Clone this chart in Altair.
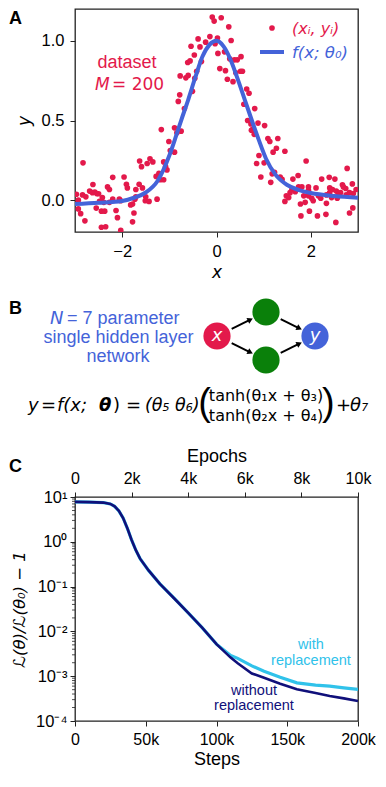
import altair as alt
import pandas as pd

FONT = "Liberation Sans"
MATH = "DejaVu Sans"
RED = "#e3194b"
BLUE = "#4463d9"
GREEN = "#0a800a"
CYAN = "#30c2ea"
NAVY = "#10107a"
INK = "#222222"

# ---------------- Panel A: dataset and fitted curve ----------------
data_x = [-2.83, -1.17, -1.01, -0.89, -0.84, -0.98, -0.89, -1.63, -1.59, -1.47, -1.41, -1.35, -1.12, -1.08,
          -1.05, -1.22, -1.28, -1.19, -1.12, -2.20, -1.96, -1.91, -1.89, -1.64, -1.57, -1.71, -2.31, -2.27,
          -2.62, -2.69, -2.63, -2.58, -2.54, -2.84, -2.77, -2.97, -2.93, -2.42, -2.20, -2.06, -2.27, -2.48,
          -2.39, -2.03, -1.71, -1.50, -1.51, -1.43, -1.26, -1.82, -1.78, -2.93, -2.88, -2.79, -2.55, -2.44,
          -2.37, -2.13, -2.10, -1.75, -1.78, -2.44, -2.35, -2.03, -1.73, -2.50,
          -0.09, -0.05, 0.10, 0.26, -0.14, -0.39, 0.02, -0.23, -0.03, -0.54, -0.35, 0.31, -0.47, 0.03, 0.17,
          -0.61, -0.56, -0.32, 0.28, 0.38, 0.44, 0.52, 0.07, 0.19, -0.42, -0.65, -0.60, -0.46, 0.23, 0.35,
          0.41, 0.51, 0.55, -0.51, -0.78, -0.81, -0.68, 0.64, 0.69, 0.58, 0.81, 0.66, 0.73, 0.88, 1.02, 0.76,
          -0.75, -0.77,
          0.74, 0.80, 1.09, 1.13, 1.30, 1.20, 1.27, 1.45, 0.90, 0.85, 1.01, 1.90, 0.94, 1.15, 1.18, 1.23,
          1.35, 1.39, 1.62, 1.73, 2.77, 2.23, 2.39, 2.51, 2.67, 2.69, 2.74, 2.88, 2.96, 1.60, 1.74, 1.81,
          1.95, 2.11, 2.40, 2.46, 2.54, 2.63, 1.56, 1.67, 1.48, 1.53, 1.45, 1.85, 1.95, 2.02, 2.16, 2.21,
          2.33, 2.44, 2.58, 2.75, 2.90, 1.78, 1.88, 2.05, 2.33, 2.56, 2.89, 2.82, 1.79, 1.97, 2.14, 2.32,
          2.53, 1.95, 2.40, 2.82]
data_y = [0.234, 0.443, 0.368, 0.454, 0.423, 0.311, 0.301, 0.246, 0.210, 0.230, 0.260, 0.240, 0.240, 0.210,
          0.190, 0.169, 0.149, 0.128, 0.128, 0.143, 0.145, 0.100, 0.077, 0.100, 0.077, 0.067, 0.083, 0.067,
          0.098, 0.057, 0.047, 0.051, 0.041, 0.033, 0.021, 0.037, 0.000, 0.016, 0.006, 0.006, -0.014, -0.008,
          -0.014, -0.004, 0.021, 0.021, -0.004, -0.008, 0.006, -0.030, -0.024, -0.055, -0.085, -0.130, -0.050,
          -0.069, -0.069, -0.065, -0.110, -0.081, -0.136, -0.170, -0.167, -0.190, 0.006, 0.040,
          1.149, 1.124, 1.145, 1.088, 1.027, 1.012, 1.018, 0.992, 0.982, 0.966, 0.962, 1.002, 0.911, 0.921,
          0.931, 0.864, 0.874, 0.870, 0.887, 0.881, 0.881, 0.901, 0.826, 0.813, 0.809, 0.768, 0.783, 0.765,
          0.759, 0.744, 0.799, 0.809, 0.809, 0.683, 0.661, 0.620, 0.575, 0.698, 0.671, 0.602, 0.575, 0.500,
          0.478, 0.484, 0.468, 0.443, 0.433, 0.780,
          0.439, 0.413, 0.387, 0.368, 0.387, 0.301, 0.326, 0.307, 0.280, 0.230, 0.234, 0.246, 0.145, 0.112,
          0.165, 0.175, 0.145, 0.130, 0.132, 0.155, 0.199, 0.132, 0.143, 0.132, 0.096, 0.083, 0.073, 0.102,
          0.067, 0.067, 0.083, 0.083, 0.083, 0.077, 0.077, 0.067, 0.057, 0.047, 0.047, 0.053, 0.027, 0.016,
          -0.008, 0.027, 0.027, 0.012, 0.027, 0.012, 0.033, 0.016, 0.033, 0.033, 0.041, -0.024, -0.014,
          -0.004, -0.020, 0.012, -0.049, -0.081, -0.099, -0.069, -0.099, -0.089, -0.140, 0.061, 0.047, 0.047]

fit_x = [-3.0, -2.5, -2.0, -1.75, -1.5, -1.25, -1.0, -0.85, -0.75, -0.6, -0.45, -0.3, -0.15, 0.0,
         0.15, 0.3, 0.45, 0.6, 0.75, 0.9, 1.05, 1.25, 1.5, 1.75, 2.0, 2.5, 3.0]
fit_y = [-0.025, -0.017, -0.005, 0.015, 0.048, 0.12, 0.28, 0.41, 0.50, 0.63, 0.77, 0.90, 0.975, 1.0,
         0.965, 0.88, 0.76, 0.63, 0.50, 0.375, 0.26, 0.16, 0.095, 0.063, 0.045, 0.026, 0.015]

x_ticks_A = [-2, 0, 2]
y_ticks_A = [0.0, 0.5, 1.0]

# ---------------- Panel B: network diagram ----------------
node_layer = [0, 1, 1, 2]
node_row = [0, 1, -1, 0]
node_color = [RED, GREEN, GREEN, BLUE]
node_text = ["x", "", "", "y"]
edge_x0 = [0.3, 0.3, 1.3, 1.3]
edge_y0 = [0.3, -0.3, 0.7, -0.7]
edge_x1 = [0.68, 0.68, 1.68, 1.68]
edge_y1 = [0.68, -0.68, 0.32, -0.32]
edge_angle = [334, 26, 26, 334]

# ---------------- Panel C: training curves ----------------
steps_common = [0, 10000, 20000, 25000, 28000, 31000, 34000, 37000, 40000, 43000, 46000, 52000,
                60000, 70000, 80000, 90000, 100000]
loss_common = [7.8, 7.7, 7.5, 7.0, 6.2, 4.9, 3.4, 2.0, 1.1, 0.65, 0.42, 0.23,
               0.115, 0.055, 0.026, 0.012, 0.0052]
steps_tail = [110000, 115000, 125000, 133600, 145000, 156800, 170000, 180000, 190000, 200000]
loss_with = [0.0029, 0.0025, 0.0017, 0.00129, 0.00095, 0.00071, 0.00063, 0.00060, 0.00055, 0.00051]
loss_without = [0.0026, 0.00195, 0.00115, 0.00092, 0.00068, 0.00051, 0.00042, 0.00036, 0.00032, 0.00028]
step_ticks = [0, 50000, 100000, 150000, 200000]
epoch_ticks = [0, 2000, 4000, 6000, 8000, 10000]
loss_ticks = [1e-4, 1e-3, 1e-2, 1e-1, 1, 10]
minor_loss = [m * 10.0 ** e for e in range(-4, 1) for m in range(2, 10)]

one = pd.DataFrame({"k": [0]})


def label(text, x, y, size=16, color="black", align="center", baseline="middle",
          style="normal", weight="normal", font=FONT):
    return alt.Chart(one).mark_text(
        text=text, align=align, baseline=baseline, fontSize=size, color=color,
        fontStyle=style, fontWeight=weight, font=font
    ).encode(x=alt.value(x), y=alt.value(y))


kfmt = "datum.value == 0 ? '0' : format(datum.value / 1000, 'd') + 'k'"

W = 283    # plot width of every panel
HA = 223   # panel A plot height
HC = 224   # panel C plot height
LX = -66   # x of the panel letters

# ---------- Panel A chart ----------
dfA = pd.DataFrame({"x": data_x, "y": data_y})
dfFit = pd.DataFrame({"x": fit_x, "y": fit_y})
xA = alt.X("x:Q", scale=alt.Scale(domain=[-3, 3], nice=False, zero=False),
           axis=alt.Axis(values=x_ticks_A, format="d", title="x", titleFontStyle="italic",
                         titleFont=MATH, titleFontSize=17, labelFlush=False))
yA = alt.Y("y:Q", scale=alt.Scale(domain=[-0.2, 1.2], nice=False, zero=False),
           axis=alt.Axis(values=y_ticks_A, format=".1f", title="y", titleFontStyle="italic",
                         titleFont=MATH, titleFontSize=17, titleX=-51, titleY=HA / 2,
                         titleBaseline="middle", titleAlign="center", titleAngle=270,
                         labelFlush=False))

scatter = alt.Chart(dfA).mark_circle(size=32, color=RED, opacity=1, clip=True).encode(x=xA, y=yA)
fit = alt.Chart(dfFit).mark_line(color=BLUE, strokeWidth=4, interpolate="monotone", clip=True).encode(x=xA, y=yA)

legend_dot = alt.Chart(one).mark_circle(size=32, color=RED, opacity=1).encode(x=alt.value(197), y=alt.value(19))
legend_line = alt.Chart(one).mark_rule(color=BLUE, strokeWidth=4).encode(
    x=alt.value(185), x2=alt.value(209), y=alt.value(43))

panelA = alt.layer(
    scatter, fit,
    label("A", LX, 1, size=18, weight="bold", align="left", baseline="top"),
    label("dataset", 52, 54, size=18, color=RED),
    label("M", 20, 76, size=17, color=RED, style="italic", align="left", font=MATH),
    label("= 200", 37, 76, size=17, color=RED, align="left", font=MATH),
    legend_dot, legend_line,
    label("(xᵢ, yᵢ)", 217, 20, size=16, color=RED, style="italic", align="left", font=MATH),
    label("f(x; θ₀)", 217, 44, size=16.5, color=BLUE, style="italic", align="left", font=MATH),
).properties(width=W, height=HA)

# ---------- Panel B chart ----------
TB = 283
dfNodes = pd.DataFrame({"layer": node_layer, "row": node_row, "c": node_color, "t": node_text})
dfEdges = pd.DataFrame({"x0": edge_x0, "y0": edge_y0, "x1": edge_x1, "y1": edge_y1, "ang": edge_angle})
sx = alt.Scale(domain=[0, 2], range=[142, 240])
sy = alt.Scale(domain=[-1, 1], range=[361 - TB, 313 - TB])

nodes = alt.Chart(dfNodes).mark_circle(size=740, opacity=1).encode(
    x=alt.X("layer:Q", scale=sx, axis=None),
    y=alt.Y("row:Q", scale=sy, axis=None),
    color=alt.Color("c:N", scale=None))
node_lbl = alt.Chart(dfNodes).mark_text(fontSize=18, fontStyle="italic", color="white", font=MATH,
                                        baseline="middle").encode(
    x=alt.X("layer:Q", scale=sx, axis=None), y=alt.Y("row:Q", scale=sy, axis=None), text="t:N")
edges = alt.Chart(dfEdges).mark_rule(color="black", strokeWidth=2).encode(
    x=alt.X("x0:Q", scale=sx, axis=None), x2="x1:Q",
    y=alt.Y("y0:Q", scale=sy, axis=None), y2="y1:Q")
heads = alt.Chart(dfEdges).mark_point(shape="triangle-right", filled=True, size=40, color="black",
                                      opacity=1).encode(
    x=alt.X("x1:Q", scale=sx, axis=None), y=alt.Y("y1:Q", scale=sy, axis=None),
    angle=alt.Angle("ang:Q", scale=None))

EQ = 407 - TB
panelB = alt.layer(
    edges, heads, nodes, node_lbl,
    label("B", LX, 300.7 - TB, size=18, weight="bold", align="left", baseline="top"),
    label("N", 50 - 75, 319.5 - TB, size=18, color=BLUE, style="italic", align="left", font=MATH),
    label("= 7 parameter", 67 - 75, 319.5 - TB, size=18, color=BLUE, align="left"),
    label("single hidden layer", 43.5, 338.5 - TB, size=18, color=BLUE),
    label("network", 43, 357.5 - TB, size=18, color=BLUE),
    label("y", 28 - 75, EQ, size=18, style="italic", align="left", font=MATH),
    label("=", 41 - 75, EQ, size=18, align="left", font=MATH),
    label("f(x;", 57 - 75, EQ, size=18, style="italic", align="left", font=MATH),
    label("θ", 99 - 75, EQ, size=18, style="italic", weight="bold", align="left", font=MATH),
    label(")", 113 - 75, EQ, size=18, align="left", font=MATH),
    label("=", 126 - 75, EQ, size=18, align="left", font=MATH),
    label("(θ₅ θ₆)", 145 - 75, EQ, size=17.5, style="italic", align="left", font=MATH),
    label("(", 211 - 75, EQ - 2, size=38, align="right", font=FONT),
    label("tanh(θ₁x + θ₃)", 266 - 75, 397 - TB, size=16, font=MATH),
    label("tanh(θ₂x + θ₄)", 266 - 75, 417 - TB, size=16, font=MATH),
    label(")", 322 - 75, EQ - 2, size=38, align="left", font=FONT),
    label("+", 336 - 75, EQ, size=18, align="left", font=MATH),
    label("θ₇", 350 - 75, EQ, size=18, style="italic", align="left", font=MATH),
).properties(width=W, height=165, view=alt.ViewBackground(stroke="transparent"))

# ---------- Panel C chart ----------
df_with = pd.DataFrame({"steps": steps_common + steps_tail, "loss": loss_common + loss_with})
df_wo = pd.DataFrame({"steps": steps_common + steps_tail, "loss": loss_common + loss_without})
df_minor = pd.DataFrame({"loss": minor_loss})
df_epochs = pd.DataFrame({"epochs": [0, 10000]})

sup = ("datum.value >= 9 ? '10¹' : datum.value >= 0.9 ? '10⁰' : datum.value >= 0.09 ? '10⁻¹' : "
       "datum.value >= 0.009 ? '10⁻²' : datum.value >= 0.0009 ? '10⁻³' : '10⁻⁴'")
xC = alt.X("steps:Q", scale=alt.Scale(domain=[0, 200000], nice=False, zero=False),
           axis=alt.Axis(values=step_ticks, labelExpr=kfmt, title="Steps", labelFlush=False,
                         labelPadding=5, titlePadding=3, labelFontSize=16))
yC = alt.Y("loss:Q", scale=alt.Scale(type="log", domain=[1e-4, 10], nice=False),
           axis=alt.Axis(values=loss_ticks, labelExpr=sup, title="ℒ(θ)/ℒ(θ₀) − 1",
                         labelPadding=3, titleFont=MATH, titleFontSize=16.5, titleFontStyle="italic",
                         titleX=-56, titleY=HC / 2, titleBaseline="middle", titleAlign="center",
                         titleAngle=270, labelFlush=False))

line_with = alt.Chart(df_with).mark_line(color=CYAN, strokeWidth=3.2, clip=True).encode(x=xC, y=yC)
line_wo = alt.Chart(df_wo).mark_line(color=NAVY, strokeWidth=2.6, clip=True).encode(x=xC, y=yC)
minor = alt.Chart(df_minor).mark_rule(color=INK, strokeWidth=0.8).encode(
    x=alt.value(0), x2=alt.value(-3), y=yC)
epochs = alt.Chart(df_epochs).mark_point(opacity=0).encode(
    x=alt.X("epochs:Q", scale=alt.Scale(domain=[0, 10000], nice=False, zero=False),
            axis=alt.Axis(orient="top", values=epoch_ticks, labelExpr=kfmt, title="Epochs",
                          labelFlush=False, labelFontSize=16)))

panelC_main = alt.layer(
    line_with, line_wo, minor,
    label("C", LX, -39.3, size=18, weight="bold", align="left", baseline="top"),
    label("with", 236, 148, size=14.5, color=CYAN),
    label("replacement", 236, 163.5, size=14.5, color=CYAN),
    label("without", 179, 193.5, size=14.5, color=NAVY),
    label("replacement", 179, 209, size=14.5, color=NAVY),
)
panelC = alt.layer(panelC_main, epochs).resolve_scale(x="independent").properties(width=W, height=HC)

chart = alt.vconcat(panelA, panelB, panelC, spacing=50, bounds="flush").properties(
    padding={"left": 0, "top": 0, "right": 0, "bottom": 0}
).configure_view(stroke=INK, strokeWidth=1.3).configure_axis(
    labelFont=FONT, labelFontSize=16.5, labelColor="black", titleFont=FONT, titleFontSize=18,
    titleColor="black", titleFontWeight="normal", tickColor=INK, tickSize=5, labelPadding=6,
    titlePadding=5, domain=False, grid=False
)

chart.save("out.html", embed_options={"renderer": "svg", "actions": False})
